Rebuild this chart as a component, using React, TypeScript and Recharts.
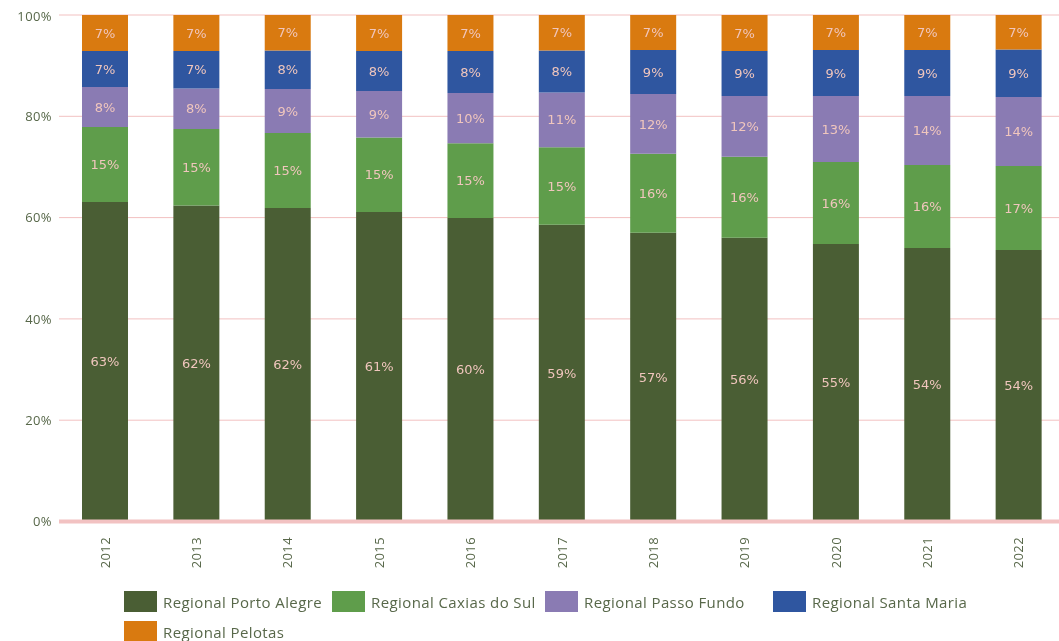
import { BarChart, Bar, XAxis, YAxis, CartesianGrid, Legend, LabelList } from "recharts";

// share of each regional per year (%)
const years = ["2012", "2013", "2014", "2015", "2016", "2017", "2018", "2019", "2020", "2021", "2022"];
const portoAlegre = [63.1, 62.4, 61.9, 61.1, 59.9, 58.6, 57.0, 56.0, 54.8, 54.0, 53.6];
const caxiasDoSul = [14.8, 15.1, 14.8, 14.7, 14.8, 15.3, 15.6, 16.0, 16.2, 16.4, 16.6];
const passoFundo = [7.9, 8.0, 8.7, 9.2, 9.9, 10.8, 11.8, 12.0, 13.0, 13.6, 13.6];
const santaMaria = [7.1, 7.4, 7.6, 7.9, 8.3, 8.3, 8.7, 8.9, 9.1, 9.1, 9.4];
const pelotas = [7.1, 7.1, 7.0, 7.1, 7.1, 7.0, 6.9, 7.1, 6.9, 6.9, 6.8];

const yTicks = [0, 20, 40, 60, 80, 100];

const series = [
  { key: "pa", name: "Regional Porto Alegre", color: "#4a5e34", values: portoAlegre },
  { key: "cx", name: "Regional Caxias do Sul", color: "#5f9d4b", values: caxiasDoSul },
  { key: "pf", name: "Regional Passo Fundo", color: "#8a7bb3", values: passoFundo },
  { key: "sm", name: "Regional Santa Maria", color: "#2f56a0", values: santaMaria },
  { key: "pe", name: "Regional Pelotas", color: "#d97a10", values: pelotas },
];

const data = years.map((year, i) => {
  const row: Record<string, any> = { year };
  series.forEach((s) => (row[s.key] = s.values[i]));
  return row;
});

const textColor = "#58684a";
const uiFont = "'Open Sans', sans-serif";

const YearTick = ({ x, y, payload }: any) => (
  <text
    x={x}
    y={y}
    transform={`rotate(-90, ${x}, ${y})`}
    textAnchor="end"
    dominantBaseline="central"
    fill={textColor}
    fontSize={13}
    fontFamily={uiFont}
    letterSpacing={0.4}
  >
    {payload.value}
  </text>
);

// legend laid out in two rows with fixed item widths
const itemWidths = [208, 213, 228, 0];
const LegendRow = ({ items, top }: { items: typeof series; top: number }) => (
  <div style={{ display: "flex", position: "absolute", left: 116, top }}>
    {items.map((s, i) => (
      <div
        key={s.key}
        style={{ display: "flex", alignItems: "center", width: itemWidths[i] || undefined }}
      >
        <div style={{ width: 33, height: 21, background: s.color, marginRight: 6 }} />
        <span
          style={{
            fontFamily: uiFont,
            fontSize: 15,
            letterSpacing: 0.4,
            color: textColor,
            whiteSpace: "nowrap",
          }}
        >
          {s.name}
        </span>
      </div>
    ))}
  </div>
);

const renderLegend = () => (
  <div style={{ position: "relative", height: 60 }}>
    <LegendRow items={series.slice(0, 4)} top={10} />
    <LegendRow items={series.slice(4)} top={40} />
  </div>
);

export default function App() {
  return (
    <div
      style={{
        position: "fixed",
        left: 0,
        top: 0,
        width: 1059,
        height: 641,
        padding: 8,
        boxSizing: "border-box",
        overflow: "hidden",
      }}
    >
      <BarChart width={1060} height={633} data={data} margin={{ top: 7, right: 4, bottom: 0, left: 0 }}>
        <CartesianGrid vertical={false} stroke="#f2c1c1" />
        <XAxis
          dataKey="year"
          height={59.5}
          tickLine={false}
          tickSize={0}
          tickMargin={15.5}
          axisLine={{ stroke: "#f2c2c2", strokeWidth: 4 }}
          tick={<YearTick />}
          interval={0}
        />
        <YAxis
          width={51}
          domain={[0, 100]}
          ticks={yTicks}
          tickFormatter={(v: number) => `${v}%`}
          axisLine={false}
          tickLine={false}
          tickMargin={1}
          tick={{ fill: textColor, fontSize: 13, fontFamily: uiFont, letterSpacing: 0.4 }}
        />
        <Legend verticalAlign="bottom" height={60} content={renderLegend} />
        {series.map((s) => (
          <Bar key={s.key} dataKey={s.key} name={s.name} stackId="a" fill={s.color} barSize={46} isAnimationActive={false}>
            <LabelList
              dataKey={s.key}
              position="center"
              formatter={(v: any) => `${Math.round(Number(v))}%`}
              fill="#f0c6bd"
              fontSize={13}
              fontFamily="'DejaVu Sans', sans-serif"
            />
          </Bar>
        ))}
      </BarChart>
    </div>
  );
}
